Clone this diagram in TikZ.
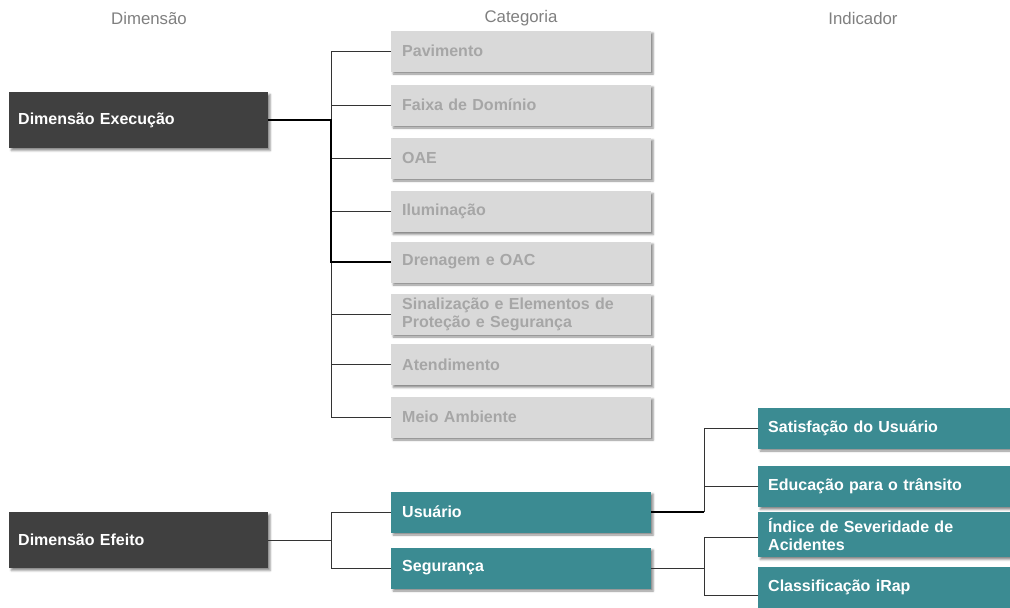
\documentclass[tikz,border=0pt]{standalone}
\usepackage{fontspec}
\setmainfont{Liberation Sans}
\usetikzlibrary{shadows.blur}
\definecolor{darkbox}{HTML}{404040}
\definecolor{catfill}{HTML}{D9D9D9}
\definecolor{cattext}{HTML}{A6A6A6}
\definecolor{effteal}{HTML}{3B8B92}
\definecolor{headgray}{HTML}{7F7F7F}
\definecolor{linecol}{HTML}{333333}
\begin{document}
\begin{tikzpicture}[x=1pt,y=-1pt,
  box/.style={rectangle, anchor=west, align=left, inner ysep=0pt,
    font=\bfseries\fontsize{16}{18}\selectfont,
    blur shadow={shadow xshift=2pt, shadow yshift=-2.5pt, shadow blur radius=2pt, shadow opacity=45}},
  dimbox/.style={box, fill=darkbox, text=white, minimum height=56pt, text width=241pt, inner xsep=9pt},
  catbox/.style={box, fill=catfill, text=cattext, minimum height=41pt, text width=238pt, inner xsep=11pt},
  effbox/.style={box, fill=effteal, text=white, minimum height=41pt, text width=238pt, inner xsep=11pt},
  indbox/.style={box, fill=effteal, text=white, minimum height=41pt, text width=232pt, inner xsep=10pt},
  head/.style={text=headgray, font=\fontsize{16.8}{19}\selectfont},
  link/.style={draw=linecol, line width=1pt},
  mainlink/.style={draw=black, line width=1.8pt}]
\useasboundingbox (0,0) rectangle (1010,608);

% column headings
\node[head] (hdim) at (149,18) {Dimensão};
\node[head] (hcat) at (521,18) {Categoria};
\node[head] (hind) at (863,18) {Indicador};

% dimensions
\node[dimbox] (exec) at (9,120) {Dimensão Execução};
\node[dimbox] (efeito) at (9,540) {Dimensão Efeito};

% categories of the execution dimension
\node[catbox] (pav) at (391,51) {Pavimento};
\node[catbox] (faixa) at (391,105) {Faixa de Domínio};
\node[catbox] (oae) at (391,158) {OAE};
\node[catbox] (ilum) at (391,211.5) {Iluminação};
\node[catbox] (dren) at (391,262) {Drenagem e OAC};
\node[catbox] (sinal) at (391,314) {Sinalização e Elementos de\\Proteção e Segurança};
\node[catbox] (atend) at (391,364.5) {Atendimento};
\node[catbox] (meio) at (391,417) {Meio Ambiente};

% categories of the effect dimension
\node[effbox] (usu) at (391,512) {Usuário};
\node[effbox] (seg) at (391,568) {Segurança};

% indicators
\node[indbox] (sat) at (758,428) {Satisfação do Usuário};
\node[indbox] (edu) at (758,486.5) {Educação para o trânsito};
\node[indbox, minimum height=45pt] (indx) at (758,534.5) {Índice de Severidade de\\Acidentes};
\node[indbox] (cla) at (758,587) {Classificação iRap};

% trunk positions
\coordinate (tr1) at (331,0);
\coordinate (tr3) at (704,0);
\coordinate (ia) at ([yshift=-3pt]indx.west);
\coordinate (cb) at ([yshift=-8pt]cla.west);

% execution tree
\draw[link] (pav.west) -- (pav.west -| tr1) -- (meio.west -| tr1) -- (meio.west);
\foreach \n in {faixa,oae,ilum,sinal,atend}
  \draw[link] (\n.west) -- (\n.west -| tr1);
\draw[mainlink] (exec.east) -- (exec.east -| tr1) -- (dren.west -| tr1) -- (dren.west);

% effect tree
\draw[link] (usu.west) -- (usu.west -| tr1) -- (seg.west -| tr1) -- (seg.west);
\draw[link] (efeito.east) -- (efeito.east -| tr1);

% indicators of the user category
\draw[link] (sat.west) -- (sat.west -| tr3) -- (usu.east -| tr3);
\draw[link] (edu.west) -- (edu.west -| tr3);
\draw[mainlink] (usu.east) -- (usu.east -| tr3);

% indicators of the safety category
\draw[link] (ia) -- (ia -| tr3) -- (cb -| tr3) -- (cb);
\draw[link] (seg.east) -- (seg.east -| tr3);
\end{tikzpicture}
\end{document}
